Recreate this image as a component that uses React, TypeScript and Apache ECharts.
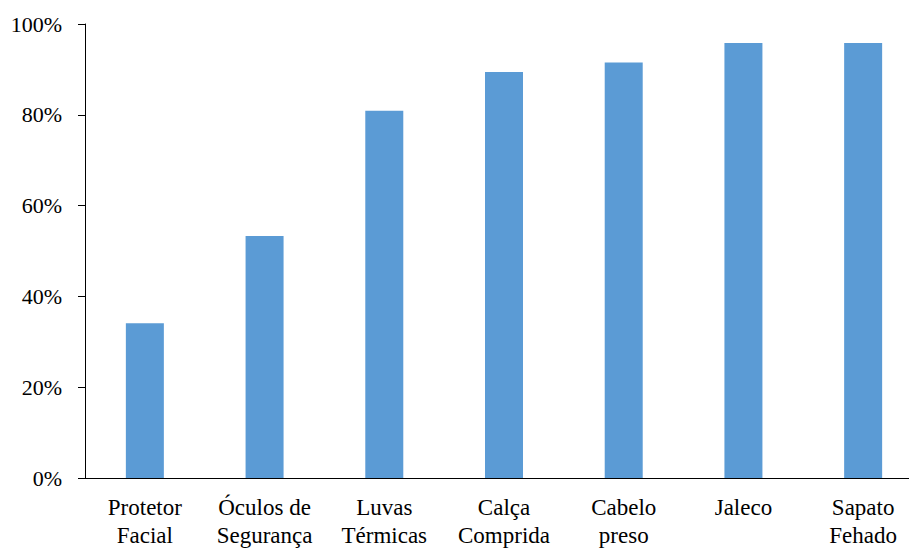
import React, { useEffect, useRef } from "react";
import * as echarts from "echarts";

const categories = [
  "Protetor\nFacial",
  "Óculos de\nSegurança",
  "Luvas\nTérmicas",
  "Calça\nComprida",
  "Cabelo\npreso",
  "Jaleco",
  "Sapato\nFehado",
];
const values = [34.1, 53.3, 80.9, 89.4, 91.5, 95.8, 95.8];
const yTicks = [0, 20, 40, 60, 80, 100];

const FONT = "Liberation Serif";

export default function App() {
  const ref = useRef<HTMLDivElement>(null);
  useEffect(() => {
    if (!ref.current) return;
    const chart = echarts.init(ref.current, null, { renderer: "svg" });
    chart.setOption({
      animation: false,
      backgroundColor: "#ffffff",
      grid: { left: 85, right: 0, top: 24, bottom: 65, containLabel: false },
      xAxis: {
        type: "category",
        data: categories,
        axisLine: { show: true, lineStyle: { color: "#000", width: 1 } },
        axisTick: { show: false },
        axisLabel: {
          interval: 0,
          margin: 15,
          color: "#000",
          fontFamily: FONT,
          fontSize: 23,
          lineHeight: 28,
          formatter: (v: string) =>
            v
              .split("\n")
              .map((s) => `{c|${s}}`)
              .join("\n"),
          rich: {
            c: { fontFamily: FONT, fontSize: 23, lineHeight: 28, color: "#000" },
          },
        },
      },
      yAxis: {
        type: "value",
        min: yTicks[0],
        max: yTicks[yTicks.length - 1],
        interval: 20,
        splitLine: { show: false },
        axisLine: { show: true, lineStyle: { color: "#000", width: 1 } },
        axisTick: { show: true, length: 7, lineStyle: { color: "#000" } },
        axisLabel: {
          margin: 23,
          color: "#000",
          fontFamily: FONT,
          fontSize: 22,
          formatter: (v: number) => `{p|${v}%}`,
          rich: {
            p: { fontFamily: FONT, fontSize: 22, color: "#000" },
          },
        },
      },
      series: [
        {
          type: "bar",
          data: values,
          barWidth: 38,
          itemStyle: { color: "#5B9BD5" },
        },
      ],
    });
    return () => chart.dispose();
  }, []);
  return (
    <div
      style={{
        position: "fixed",
        left: 0,
        top: 0,
        width: 909,
        height: 549,
        overflow: "hidden",
        background: "#fff",
      }}
    >
      <div ref={ref} style={{ width: 923, height: 549 }} />
    </div>
  );
}
